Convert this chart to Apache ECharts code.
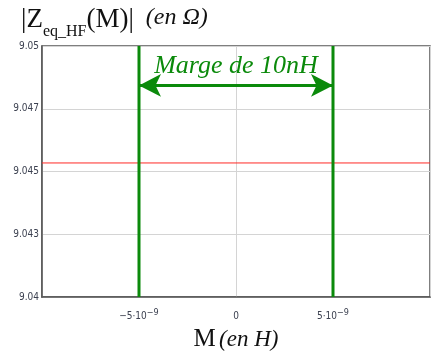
<!DOCTYPE html>
<html>
<head>
<meta charset="utf-8">
<script src="https://cdn.jsdelivr.net/npm/echarts@6/dist/echarts.min.js"></script>
<style>
  html, body { margin: 0; padding: 0; background: #fff; }
  #main { width: 432px; height: 356px; }
</style>
</head>
<body>
<div id="main"></div>
<script>
// x range (en H) and ticks
var xRange = [-1e-8, 1e-8];
var xTickStep = 5e-9;
var xTickLabels = ['', '{b|−5·10}{s|−9}', '{b|0}', '{b|5·10}{s|−9}', ''];

// y range (en Ω) and ticks as printed by the original
var yRange = [9.04, 9.05];
var yTickStep = 0.0025;
var yTickLabels = ['9.04', '9.043', '9.045', '9.047', '9.05'];

// |Z_eq_HF(M)| : constant over M
var zM = [-1e-8, 1e-8];
var zVal = [9.04534, 9.04534];

// margin of 10nH
var marge = [-5e-9, 5e-9];
var margeLabel = 'Marge de 10nH';

var green = '#0b8a0b';
var myChart = echarts.init(document.getElementById('main'));

var serif = 'Liberation Serif';
var tickFont = 'DejaVu Sans Condensed';

var series = [
  {
    type: 'line',
    data: zM.map(function (m, i) { return [m, zVal[i]]; }),
    symbol: 'none',
    itemStyle: { color: '#ff2a26' },
    lineStyle: { color: '#ff2a26', width: 1 },
    z: 3
  },
  {
    // double arrow between the two margins
    type: 'line',
    data: [],
    markLine: {
      silent: true, precision: 12,
      symbol: ['arrow', 'arrow'], symbolSize: [17, 22],
      lineStyle: { color: green, width: 3, type: 'solid' },
      label: {
        show: true, position: 'middle', distance: 6,
        formatter: margeLabel,
        fontFamily: serif, fontStyle: 'italic', fontSize: 26, color: green
      },
      data: [[{ coord: [marge[0], 9.04843] }, { coord: [marge[1], 9.04843] }]]
    }
  }
];
// the two vertical green lines at ±5 nH
marge.forEach(function (x) {
  series.push({
    type: 'line',
    data: [[x, yRange[0]], [x, yRange[1]]],
    symbol: 'none',
    lineStyle: { color: green, width: 3 },
    z: 4
  });
});

var option = {
  animation: false,
  title: {
    left: 16, top: 1,
    text: '{a||Z}{b|eq_HF}{a|(M)|}{c|  (en Ω)}',
    textStyle: {
      rich: {
        a: { fontFamily: serif, fontWeight: 'normal', fontSize: 27, color: '#111', verticalAlign: 'top', lineHeight: 32 },
        b: { fontFamily: serif, fontWeight: 'normal', fontSize: 16, color: '#111', verticalAlign: 'bottom', lineHeight: 32 },
        c: { fontFamily: serif, fontWeight: 'normal', fontStyle: 'italic', fontSize: 24, color: '#111', verticalAlign: 'top', lineHeight: 34 }
      }
    }
  },
  grid: {
    left: 42, right: 2, top: 46, bottom: 59,
    outerBoundsMode: 'none', containLabel: false,
    show: true, borderColor: '#555', borderWidth: 1.5
  },
  xAxis: {
    type: 'value',
    min: xRange[0], max: xRange[1], interval: xTickStep,
    name: '{m|M} {i|(en H)}',
    nameLocation: 'middle', nameGap: 30,
    nameTextStyle: {
      rich: {
        m: { fontFamily: serif, fontSize: 25, color: '#111' },
        i: { fontFamily: serif, fontStyle: 'italic', fontSize: 23, color: '#111' }
      }
    },
    axisLine: { show: true, onZero: false, lineStyle: { color: '#555', width: 1.5 } },
    axisTick: { show: false },
    splitLine: { show: true, lineStyle: { color: '#d4d4d4', width: 1 } },
    axisLabel: {
      showMinLabel: false, showMaxLabel: false, margin: 11,
      formatter: function (v) {
        return xTickLabels[Math.round((v - xRange[0]) / xTickStep)] || '';
      },
      rich: {
        b: { fontFamily: tickFont, fontSize: 10, color: '#3c4150', verticalAlign: 'bottom', lineHeight: 13 },
        s: { fontFamily: tickFont, fontSize: 9, color: '#3c4150', verticalAlign: 'top', lineHeight: 13 }
      }
    }
  },
  yAxis: {
    type: 'value',
    min: yRange[0], max: yRange[1], interval: yTickStep,
    axisLine: { show: true, onZero: false, lineStyle: { color: '#555', width: 1.5 } },
    axisTick: { show: false },
    splitLine: { show: true, lineStyle: { color: '#d4d4d4', width: 1 } },
    axisLabel: {
      margin: 3,
      fontFamily: tickFont, fontSize: 10, color: '#3c4150',
      formatter: function (v) {
        return yTickLabels[Math.round((v - yRange[0]) / yTickStep)] || '';
      }
    }
  },
  series: series
};
myChart.setOption(option);
</script>
</body>
</html>
